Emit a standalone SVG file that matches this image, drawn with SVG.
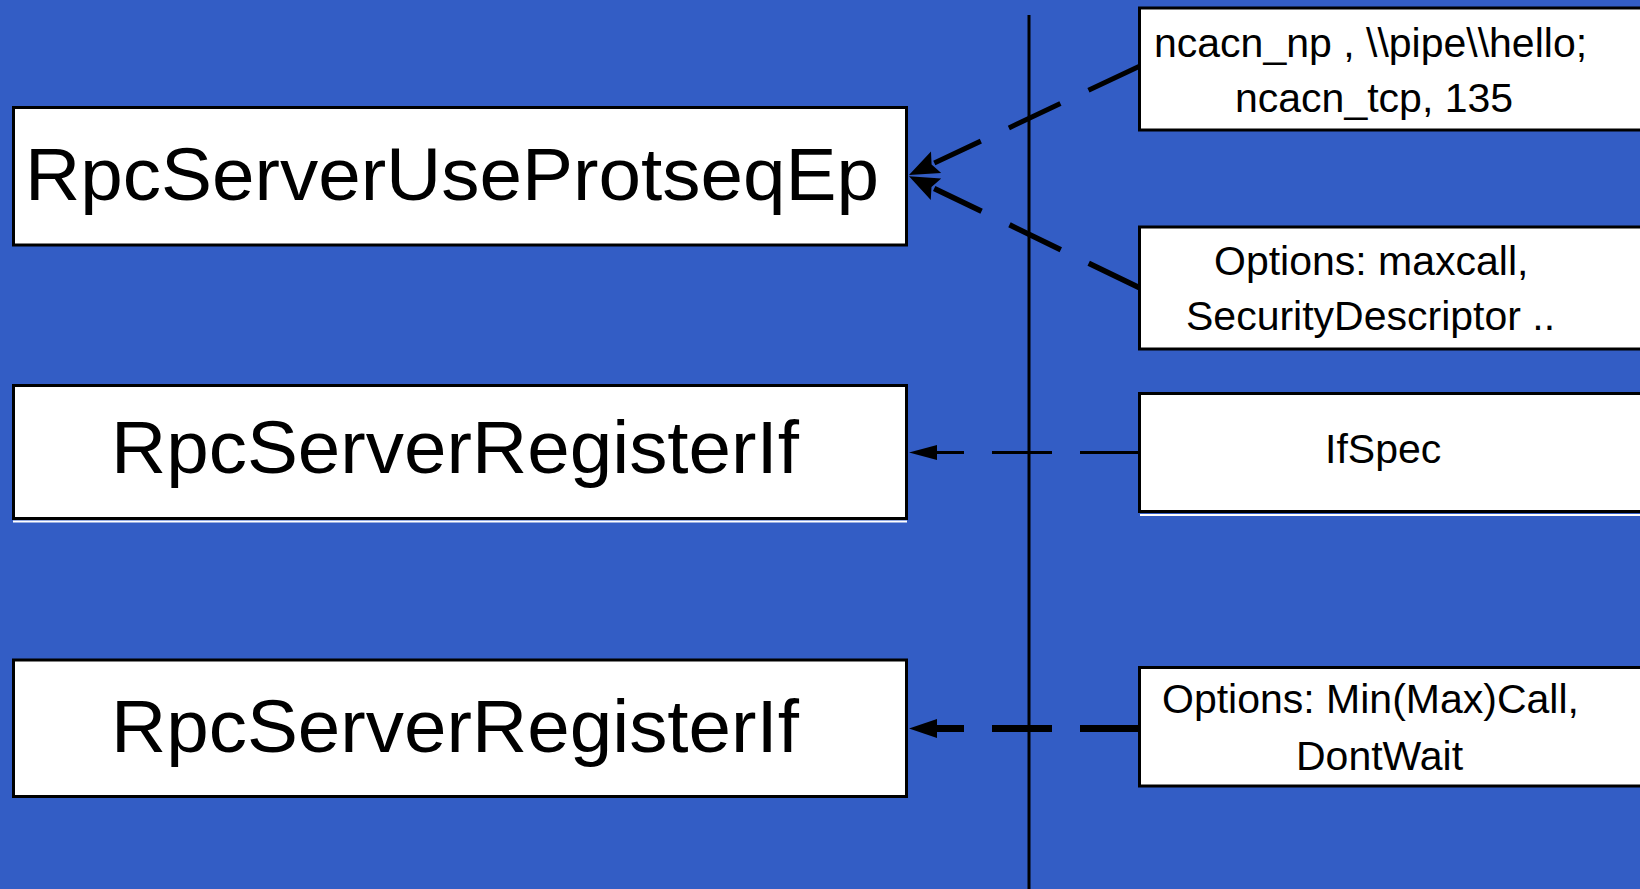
<svg xmlns="http://www.w3.org/2000/svg" width="1640" height="889" viewBox="0 0 1640 889">
<style>
.bg{fill:#335DC5}
.box{fill:#fff;stroke:#000;stroke-width:3}
.shadow{stroke:#fff;stroke-width:2}
.big{font-family:"Liberation Sans",Arial,sans-serif;font-size:75px;fill:#000}
.small{font-family:"Liberation Sans",Arial,sans-serif;font-size:41px;fill:#000}
.conn{fill:none;stroke:#000;stroke-linecap:butt}
</style>
<defs>
<marker id="headA" markerUnits="userSpaceOnUse" markerWidth="40" markerHeight="40" refX="0" refY="0" orient="auto" overflow="visible">
<path d="M-2,-12 L28,0 L-2,12 L3,0 z" fill="#000"/>
</marker>
<marker id="headB" markerUnits="userSpaceOnUse" markerWidth="40" markerHeight="40" refX="0" refY="0" orient="auto" overflow="visible">
<path d="M0,-7.5 L28,0 L0,7.5 z" fill="#000"/>
</marker>
<marker id="headC" markerUnits="userSpaceOnUse" markerWidth="40" markerHeight="40" refX="0" refY="0" orient="auto" overflow="visible">
<path d="M0,-9.5 L28,0 L0,9.5 z" fill="#000"/>
</marker>
</defs>
<rect class="bg" x="0" y="0" width="1640" height="889"/>

<g id="divider">
<line x1="1029" y1="15" x2="1029" y2="889" stroke="#000" stroke-width="3"/>
</g>

<g id="connectors">
<path class="conn" d="M1140,66 L934.3,163.1" stroke-width="5" stroke-dasharray="57 31" marker-end="url(#headA)"/>
<path class="conn" d="M1140,288 L934.2,188.4" stroke-width="5.5" stroke-dasharray="57 31" marker-end="url(#headA)"/>
<path class="conn" d="M1140,452.5 L937,452.5" stroke-width="3" stroke-dasharray="60 28" marker-end="url(#headB)"/>
<path class="conn" d="M1140,728.5 L937,728.5" stroke-width="7" stroke-dasharray="60 28" marker-end="url(#headC)"/>
</g>

<g id="node-useprotseqep">
<rect class="box" x="13.5" y="107.5" width="893" height="137.5"/>
<text class="big" x="25" y="200" textLength="854" lengthAdjust="spacingAndGlyphs">RpcServerUseProtseqEp</text>
</g>

<g id="node-registerif-1">
<rect class="box" x="13.5" y="385.5" width="893" height="133"/>
<line class="shadow" x1="13" y1="521.5" x2="907" y2="521.5"/>
<text class="big" x="111" y="473" textLength="688" lengthAdjust="spacingAndGlyphs">RpcServerRegisterIf</text>
</g>

<g id="node-registerif-2">
<rect class="box" x="13.5" y="660" width="893" height="136.5"/>
<text class="big" x="111" y="752" textLength="688" lengthAdjust="spacingAndGlyphs">RpcServerRegisterIf</text>
</g>

<g id="node-protseq">
<rect class="box" x="1139.5" y="8" width="520" height="122"/>
<text class="small" x="1154" y="57">ncacn_np , \\pipe\\hello;</text>
<text class="small" x="1235" y="112">ncacn_tcp, 135</text>
</g>

<g id="node-options-1">
<rect class="box" x="1139.5" y="227" width="520" height="122"/>
<text class="small" x="1214" y="275">Options: maxcall,</text>
<text class="small" x="1186" y="330">SecurityDescriptor ..</text>
</g>

<g id="node-ifspec">
<rect class="box" x="1139.5" y="393.5" width="520" height="118"/>
<line class="shadow" x1="1140" y1="515" x2="1640" y2="515"/>
<text class="small" x="1325" y="463">IfSpec</text>
</g>

<g id="node-options-2">
<rect class="box" x="1139.5" y="667.5" width="520" height="118.5"/>
<text class="small" x="1162" y="713">Options: Min(Max)Call,</text>
<text class="small" x="1296" y="770">DontWait</text>
</g>
</svg>
